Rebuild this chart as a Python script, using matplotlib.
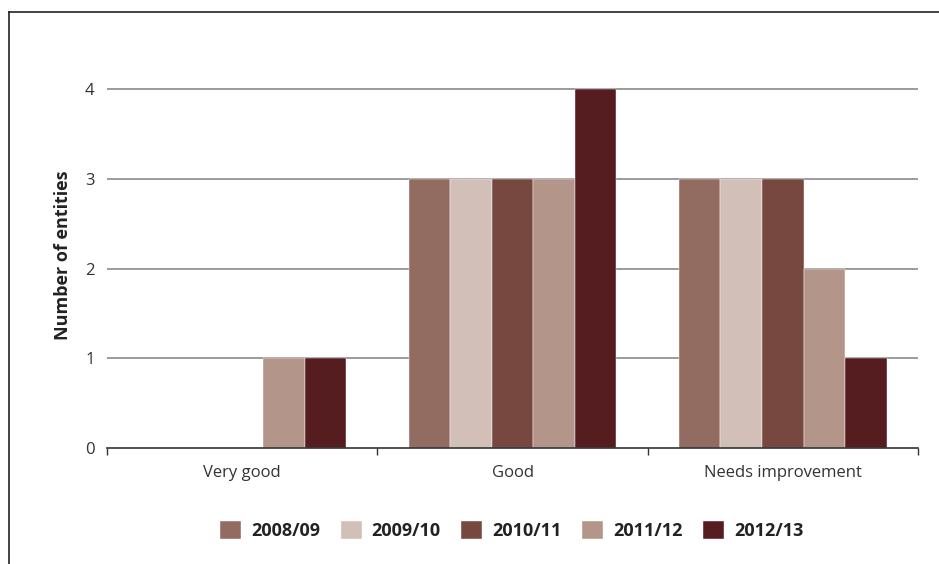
import numpy as np
import matplotlib.pyplot as plt
from matplotlib.lines import Line2D

plt.rcParams['font.family'] = ['Open Sans', 'DejaVu Sans']

categories = ["Very good", "Good", "Needs improvement"]
years = ["2008/09", "2009/10", "2010/11", "2011/12", "2012/13"]
counts = {
    "2008/09": [0, 3, 3],
    "2009/10": [0, 3, 3],
    "2010/11": [0, 3, 3],
    "2011/12": [1, 3, 2],
    "2012/13": [1, 4, 1],
}
colours = ["#926C60", "#D2C0B8", "#77483F", "#B39589", "#561D21"]

fig = plt.figure(figsize=(9.39, 5.64), dpi=100)
ax = fig.add_axes([0.114, 0.2057, 0.8636, 0.684])

centres = np.arange(len(categories)) + 0.5
w = 0.1538
for i, (yr, col) in enumerate(zip(years, colours)):
    ax.bar(centres + (i - 2) * w, counts[yr], width=w, color=col,
           label=yr, zorder=3, edgecolor="white", linewidth=0.3)

ax.set_xlim(0, 3)
ax.set_ylim(0, 4.3)
ax.set_yticks([0, 1, 2, 3, 4])
for y in [1, 2, 3, 4]:
    ax.axhline(y, color="#8a8a8a", linewidth=1.2, zorder=1)

ax.set_xticks([0, 1, 2, 3])
ax.set_xticklabels([])
ax.set_xticks(centres, minor=True)
ax.set_xticklabels(categories, minor=True, fontsize=12, color="#333333")
ax.tick_params(axis="x", which="major", length=5, color="#333333", width=1)
ax.tick_params(axis="x", which="minor", length=0, pad=12)
ax.tick_params(axis="y", length=0, pad=9, labelsize=12, labelcolor="#333333")

for s in ["top", "right", "left"]:
    ax.spines[s].set_visible(False)
ax.spines["bottom"].set_color("#333333")
ax.spines["bottom"].set_linewidth(1.2)
ax.spines["bottom"].set_zorder(4)

ax.set_ylabel("Number of entities", fontsize=13, fontweight="bold",
              color="#222222", labelpad=9)

fig.legend(loc="center", bbox_to_anchor=(0.545, 0.06), ncol=5, frameon=False,
           prop={"weight": "bold", "size": 13}, handlelength=1.15,
           handleheight=1.15, handletextpad=0.55, columnspacing=1.15,
           labelcolor="#222222")

# outer frame: top and left edges only
fig.add_artist(Line2D([9 / 939, 1.0], [1 - 12 / 564, 1 - 12 / 564],
                      transform=fig.transFigure, color="#222222", linewidth=1.2))
fig.add_artist(Line2D([9 / 939, 9 / 939], [0, 1 - 12 / 564],
                      transform=fig.transFigure, color="#222222", linewidth=1.2))

fig.savefig("out.png", dpi=100)
